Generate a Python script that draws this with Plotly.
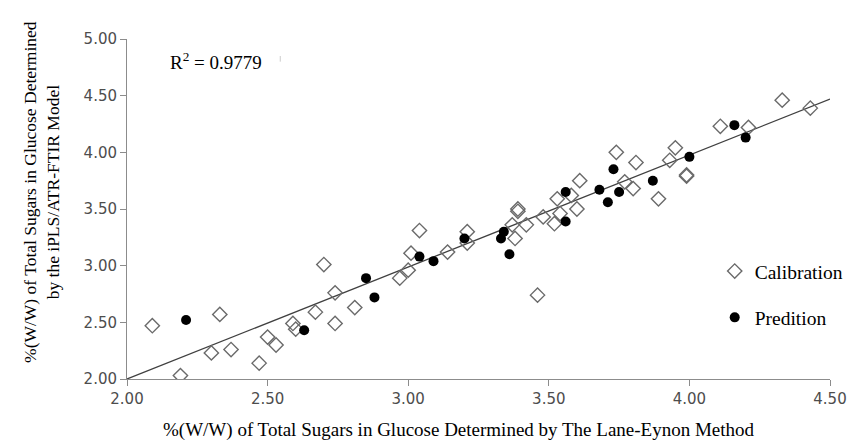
import plotly.graph_objects as go

# Calibration set (Lane-Eynon reference vs. iPLS/ATR-FTIR predicted)
cal_x = [2.09, 2.19, 2.30, 2.33, 2.37, 2.47, 2.50, 2.53, 2.59, 2.60, 2.67, 2.70,
         2.74, 2.74, 2.81, 2.97, 3.00, 3.01, 3.04, 3.14, 3.21, 3.21, 3.37, 3.38,
         3.39, 3.39, 3.42, 3.46, 3.48, 3.52, 3.53, 3.54, 3.58, 3.60, 3.61, 3.74,
         3.77, 3.80, 3.81, 3.89, 3.93, 3.95, 3.99, 3.99, 4.11, 4.21, 4.33, 4.43]
cal_y = [2.47, 2.03, 2.23, 2.57, 2.26, 2.14, 2.37, 2.30, 2.49, 2.44, 2.59, 3.01,
         2.76, 2.49, 2.63, 2.89, 2.96, 3.11, 3.31, 3.12, 3.30, 3.20, 3.36, 3.24,
         3.50, 3.48, 3.36, 2.74, 3.43, 3.37, 3.59, 3.46, 3.62, 3.50, 3.75, 4.00,
         3.74, 3.68, 3.91, 3.59, 3.93, 4.04, 3.79, 3.80, 4.23, 4.22, 4.46, 4.39]

# Prediction set
pred_x = [2.21, 2.63, 2.85, 2.88, 3.04, 3.09, 3.20, 3.33, 3.34, 3.36,
          3.56, 3.56, 3.68, 3.71, 3.73, 3.75, 3.87, 4.00, 4.16, 4.20]
pred_y = [2.52, 2.43, 2.89, 2.72, 3.08, 3.04, 3.24, 3.24, 3.30, 3.10,
          3.65, 3.39, 3.67, 3.56, 3.85, 3.65, 3.75, 3.96, 4.24, 4.13]

# Linear trend line endpoints (as drawn)
fit_x = [2.00, 4.50]
fit_y = [2.00, 4.47]

r2_text = "R<sup>2</sup> = 0.9779"
x_title = "%(W/W) of Total Sugars in Glucose Determined by The Lane-Eynon Method"
y_title = "%(W/W) of Total Sugars in Glucose Determined<br>by the iPLS/ATR-FTIR Model"
tick_vals = [2.0, 2.5, 3.0, 3.5, 4.0, 4.5, 5.0]
tick_text = ["2.00", "2.50", "3.00", "3.50", "4.00", "4.50", "5.00"]

serif = "Liberation Serif, Times New Roman, serif"
sans = "DejaVu Sans, Verdana, sans-serif"

fig = go.Figure()
fig.add_trace(go.Scatter(x=fit_x, y=fit_y, mode="lines",
                         line=dict(color="#404040", width=1.3),
                         showlegend=False, hoverinfo="skip"))
fig.add_trace(go.Scatter(x=cal_x, y=cal_y, mode="markers", name="Calibration",
                         legendgroup="cal",
                         marker=dict(symbol="diamond-open", size=11,
                                     color="#6a6a6a", line=dict(width=1.4, color="#6a6a6a"))))
fig.add_trace(go.Scatter(x=pred_x, y=pred_y, mode="markers", name="Predition",
                         legendgroup="pred",
                         marker=dict(symbol="circle", size=10, color="#000000")))

fig.add_annotation(x=2.146, y=4.806, xref="x", yref="y", text=r2_text,
                   showarrow=False, xanchor="left", yanchor="middle",
                   font=dict(family=serif, size=19, color="#000000"))
fig.add_shape(type="line", x0=2.545, x1=2.545, y0=4.80, y1=4.85, xref="x", yref="y",
              line=dict(color="#cccccc", width=1))

fig.add_annotation(x=-0.121, y=0.55, xref="paper", yref="paper", text=y_title,
                   showarrow=False, textangle=-90, xanchor="center", yanchor="middle",
                   font=dict(family=serif, size=17.5, color="#000000"))
fig.add_annotation(x=0.472, y=-0.15, xref="paper", yref="paper", text=x_title,
                   showarrow=False, xanchor="center", yanchor="middle",
                   font=dict(family=serif, size=19, color="#000000"))

fig.update_layout(
    width=862, height=442,
    margin=dict(l=127, r=32, t=39, b=63),
    paper_bgcolor="white", plot_bgcolor="white",
    font=dict(family=sans, size=15, color="#4d4d4d"),
    legend=dict(x=0.836, y=0.374, xanchor="left", yanchor="top",
                font=dict(family=serif, size=19.5, color="#000000"),
                tracegroupgap=18, bgcolor="rgba(0,0,0,0)", itemsizing="trace"),
    xaxis=dict(range=[2.0, 4.5], tickvals=tick_vals, ticktext=tick_text,
               showgrid=False, zeroline=False, showline=True, linecolor="#8c8c8c",
               linewidth=1, ticks="outside", ticklen=6, tickcolor="#8c8c8c",
               tickfont=dict(family=sans, size=15, color="#4d4d4d")),
    yaxis=dict(range=[2.0, 5.0], tickvals=tick_vals, ticktext=tick_text,
               showgrid=False, zeroline=False, showline=True, linecolor="#8c8c8c",
               linewidth=1, ticks="outside", ticklen=6, tickcolor="#8c8c8c",
               tickfont=dict(family=sans, size=15, color="#4d4d4d")),
)

fig.write_html("out.html")
